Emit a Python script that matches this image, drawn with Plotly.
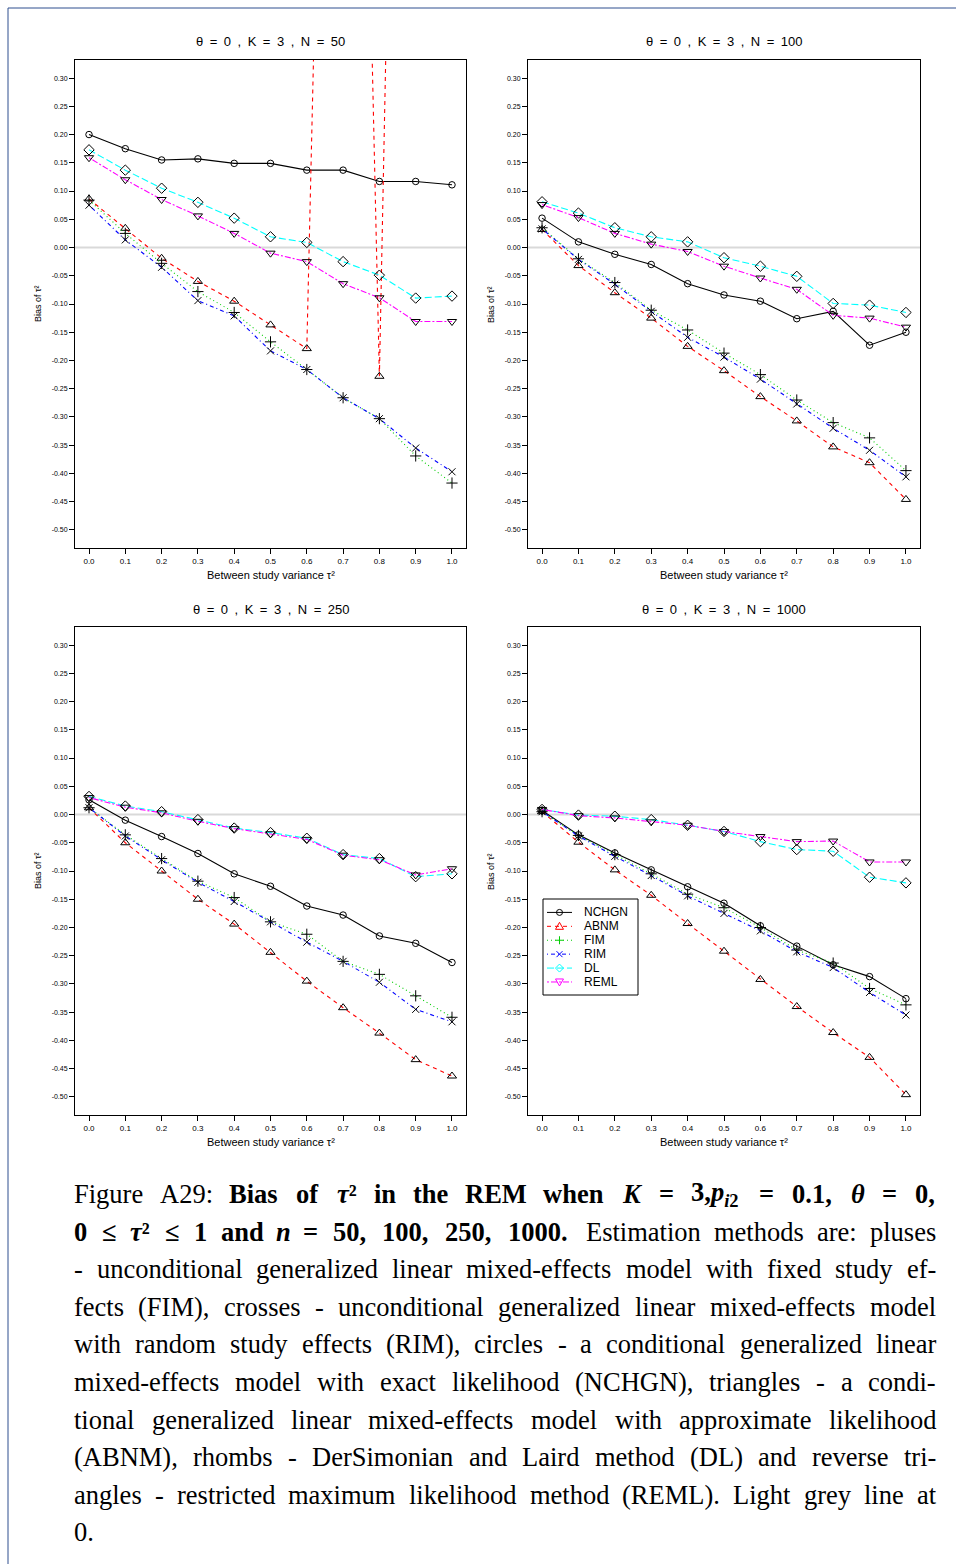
import re
import plotly.graph_objects as go

# ---------------- data ----------------
tau2 = [0.0, 0.1, 0.2, 0.3, 0.4, 0.5, 0.6, 0.7, 0.8, 0.9, 1.0]
x_tick_labels = ["0.0", "0.1", "0.2", "0.3", "0.4", "0.5", "0.6", "0.7", "0.8", "0.9", "1.0"]
y_tick_vals = [-0.50, -0.45, -0.40, -0.35, -0.30, -0.25, -0.20, -0.15, -0.10, -0.05,
               0.00, 0.05, 0.10, 0.15, 0.20, 0.25, 0.30]
y_tick_labels = ["-0.50", "-0.45", "-0.40", "-0.35", "-0.30", "-0.25", "-0.20", "-0.15", "-0.10",
                 "-0.05", "0.00", "0.05", "0.10", "0.15", "0.20", "0.25", "0.30"]
panel_titles = ["θ = 0 , K = 3 , N = 50", "θ = 0 , K = 3 , N = 100",
                "θ = 0 , K = 3 , N = 250", "θ = 0 , K = 3 , N = 1000"]
methods = ["NCHGN", "ABNM", "FIM", "RIM", "DL", "REML"]

# N = 50
n50_nchgn = [0.200, 0.175, 0.155, 0.157, 0.149, 0.149, 0.137, 0.137, 0.117, 0.117, 0.111]
n50_abnm = [0.086, 0.034, -0.019, -0.060, -0.095, -0.137, -0.179, 2.60, -0.228, 3.00, None]
n50_fim = [0.084, 0.025, -0.028, -0.078, -0.115, -0.167, -0.216, -0.266, -0.303, -0.369, -0.417]
n50_rim = [0.075, 0.0135, -0.035, -0.094, -0.121, -0.183, -0.216, -0.266, -0.303, -0.355, -0.397]
n50_dl = [0.173, 0.137, 0.105, 0.080, 0.052, 0.019, 0.009, -0.025, -0.049, -0.0895, -0.086]
n50_reml = [0.159, 0.120, 0.085, 0.056, 0.025, -0.010, -0.025, -0.064, -0.089, -0.131, -0.131]

# N = 100
n100_nchgn = [0.052, 0.010, -0.012, -0.030, -0.064, -0.084, -0.095, -0.126, -0.113, -0.173, -0.150]
n100_abnm = [0.032, -0.032, -0.080, -0.125, -0.175, -0.218, -0.264, -0.307, -0.353, -0.381, -0.446]
n100_fim = [0.035, -0.020, -0.062, -0.111, -0.146, -0.187, -0.225, -0.270, -0.310, -0.337, -0.395]
n100_rim = [0.033, -0.021, -0.065, -0.113, -0.159, -0.194, -0.233, -0.277, -0.320, -0.359, -0.406]
n100_dl = [0.081, 0.061, 0.035, 0.019, 0.010, -0.018, -0.033, -0.051, -0.099, -0.102, -0.115]
n100_reml = [0.076, 0.053, 0.025, 0.006, -0.007, -0.033, -0.054, -0.074, -0.120, -0.125, -0.141]

# N = 250
n250_nchgn = [0.026, -0.010, -0.039, -0.069, -0.105, -0.127, -0.162, -0.178, -0.215, -0.228, -0.262]
n250_abnm = [0.012, -0.050, -0.100, -0.150, -0.194, -0.244, -0.295, -0.342, -0.387, -0.434, -0.463]
n250_fim = [0.012, -0.036, -0.078, -0.118, -0.147, -0.190, -0.212, -0.260, -0.283, -0.321, -0.359]
n250_rim = [0.012, -0.038, -0.080, -0.120, -0.154, -0.190, -0.226, -0.260, -0.297, -0.345, -0.367]
n250_dl = [0.032, 0.015, 0.005, -0.009, -0.024, -0.032, -0.042, -0.071, -0.078, -0.110, -0.105]
n250_reml = [0.030, 0.013, 0.003, -0.012, -0.025, -0.034, -0.044, -0.072, -0.080, -0.107, -0.096]

# N = 1000
n1000_nchgn = [0.007, -0.036, -0.068, -0.098, -0.128, -0.157, -0.197, -0.233, -0.266, -0.287, -0.326]
n1000_abnm = [0.005, -0.049, -0.098, -0.143, -0.193, -0.242, -0.292, -0.340, -0.386, -0.430, -0.496]
n1000_fim = [0.005, -0.037, -0.071, -0.105, -0.141, -0.165, -0.200, -0.240, -0.263, -0.308, -0.337]
n1000_rim = [0.005, -0.038, -0.074, -0.108, -0.144, -0.175, -0.206, -0.243, -0.271, -0.315, -0.355]
n1000_dl = [0.009, -0.001, -0.003, -0.009, -0.019, -0.030, -0.048, -0.062, -0.065, -0.111, -0.121]
n1000_reml = [0.009, -0.002, -0.006, -0.013, -0.019, -0.030, -0.039, -0.048, -0.047, -0.084, -0.084]

panels = [
    [n50_nchgn, n50_abnm, n50_fim, n50_rim, n50_dl, n50_reml],
    [n100_nchgn, n100_abnm, n100_fim, n100_rim, n100_dl, n100_reml],
    [n250_nchgn, n250_abnm, n250_fim, n250_rim, n250_dl, n250_reml],
    [n1000_nchgn, n1000_abnm, n1000_fim, n1000_rim, n1000_dl, n1000_reml],
]

# ---------------- styles ----------------
W, H = 956, 1564
colors = ["#000000", "#ff0000", "#00cd00", "#0000ff", "#00ffff", "#ff00ff"]
# R line types: solid, dashed, dotted, dotdash, longdash, twodash
dashes = ["solid", "4px,4px", "1px,3px", "1px,3px,4px,3px", "7px,3px", "2px,2px,6px,2px"]
symbols = ["circle-open", "triangle-up-open", "cross-thin-open", "x-thin-open",
           "diamond-open", "triangle-down-open"]
msizes = [6.5, 8, 8, 7, 8, 8]

col_px = [(75, 466), (528, 920)]
row_px = [(60, 548), (627, 1115)]
SANS = "Liberation Sans"
ESP = "\u2002"


def px_x(p):
    return p / W


def px_y(p):
    return 1 - p / H


fig = go.Figure()
layout_axes = {}
annotations = []
shapes = []

for k in range(4):
    r, c = divmod(k, 2)
    ax = "" if k == 0 else str(k + 1)
    xa, ya = "x" + ax, "y" + ax
    x0, x1 = col_px[c]
    y0, y1 = row_px[r]
    layout_axes["xaxis" + ax] = dict(
        domain=[px_x(x0), px_x(x1)], anchor=ya, range=[-0.0386, 1.0386],
        tickvals=tau2, ticktext=x_tick_labels, ticks="outside", ticklen=5,
        tickcolor="black", tickwidth=1, tickfont=dict(size=8, family=SANS, color="black"),
        showline=True, mirror=True, linecolor="black", linewidth=1,
        showgrid=False, zeroline=False, fixedrange=True)
    layout_axes["yaxis" + ax] = dict(
        domain=[px_y(y1), px_y(y0)], anchor=xa, range=[-0.532, 0.332],
        tickvals=y_tick_vals, ticktext=y_tick_labels, ticks="outside", ticklen=5,
        tickcolor="black", tickwidth=1, tickfont=dict(size=7, family=SANS, color="black"),
        showline=True, mirror=True, linecolor="black", linewidth=1,
        showgrid=False, zeroline=False, fixedrange=True)
    # zero reference line
    shapes.append(dict(type="line", xref=xa + " domain", yref=ya, x0=0, x1=1, y0=0, y1=0,
                       line=dict(color="#d9d9d9", width=2), layer="below"))
    for m in range(6):
        fig.add_trace(go.Scatter(
            x=tau2, y=panels[k][m], mode="lines+markers", xaxis=xa, yaxis=ya,
            line=dict(color=colors[m], dash=dashes[m], width=1.1),
            marker=dict(symbol=symbols[m], size=msizes[m], color="black",
                        line=dict(color="black", width=1)),
            showlegend=False, name=methods[m], cliponaxis=True, hoverinfo="skip"))
    cx = (x0 + x1) / 2
    annotations.append(dict(text=panel_titles[k].replace(" ", ESP), x=px_x(cx), y=px_y(y0 - 18),
                            xref="paper", yref="paper", showarrow=False, xanchor="center",
                            yanchor="middle", font=dict(size=13, family=SANS, color="black")))
    annotations.append(dict(text="Between study variance τ²", x=px_x(cx), y=px_y(y1 + 27),
                            xref="paper", yref="paper", showarrow=False, xanchor="center",
                            yanchor="middle", font=dict(size=11, family=SANS, color="black")))
    annotations.append(dict(text="Bias of τ²", x=px_x(x0 - 37), y=px_y((y0 + y1) / 2),
                            xref="paper", yref="paper", showarrow=False, xanchor="center",
                            yanchor="middle", textangle=-90,
                            font=dict(size=9, family=SANS, color="black")))

# ---------------- legend box (bottom-right panel, like R's legend()) ----------------
leg_x0, leg_x1, leg_y0, leg_y1 = 543, 638, 899, 995
shapes.append(dict(type="rect", xref="paper", yref="paper", x0=px_x(leg_x0), x1=px_x(leg_x1),
                   y0=px_y(leg_y1), y1=px_y(leg_y0), line=dict(color="black", width=1),
                   fillcolor="white"))


def glyph_shapes(sym, cx, cy, color, s=4.0):
    def P(pts, close=True):
        d = "M " + " L ".join(f"{px_x(a):.6f},{px_y(b):.6f}" for a, b in pts)
        return d + (" Z" if close else "")
    st = dict(type="path", xref="paper", yref="paper", line=dict(color=color, width=1))
    if sym.startswith("circle"):
        return [dict(type="circle", xref="paper", yref="paper", x0=px_x(cx - 3), x1=px_x(cx + 3),
                     y0=px_y(cy + 3), y1=px_y(cy - 3), line=dict(color=color, width=1))]
    if sym.startswith("triangle-up"):
        return [dict(st, path=P([(cx, cy - s), (cx + s, cy + s * 0.75), (cx - s, cy + s * 0.75)]))]
    if sym.startswith("triangle-down"):
        return [dict(st, path=P([(cx, cy + s), (cx + s, cy - s * 0.75), (cx - s, cy - s * 0.75)]))]
    if sym.startswith("diamond"):
        return [dict(st, path=P([(cx, cy - s), (cx + s, cy), (cx, cy + s), (cx - s, cy)]))]
    if sym.startswith("cross"):
        return [dict(st, path=P([(cx - s, cy), (cx + s, cy)], False)),
                dict(st, path=P([(cx, cy - s), (cx, cy + s)], False))]
    if sym.startswith("x"):
        return [dict(st, path=P([(cx - s * 0.75, cy - s * 0.75), (cx + s * 0.75, cy + s * 0.75)], False)),
                dict(st, path=P([(cx - s * 0.75, cy + s * 0.75), (cx + s * 0.75, cy - s * 0.75)], False))]
    return []


row_h = (leg_y1 - leg_y0) / 6.9
for m in range(6):
    yc = leg_y0 + row_h * (m + 1) - 0.5
    shapes.append(dict(type="line", xref="paper", yref="paper", x0=px_x(547), x1=px_x(572),
                       y0=px_y(yc), y1=px_y(yc), line=dict(color=colors[m], dash=dashes[m], width=1)))
    shapes.extend(glyph_shapes(symbols[m], 559.5, yc, colors[m]))
    annotations.append(dict(text=methods[m], x=px_x(583), y=px_y(yc), xref="paper", yref="paper",
                            showarrow=False, xanchor="left", yanchor="middle", borderpad=0,
                            font=dict(size=12, family=SANS, color="black")))

# page border
shapes.append(dict(type="line", xref="paper", yref="paper", x0=px_x(8), x1=1, y0=px_y(8), y1=px_y(8),
                   line=dict(color="#2f4f8f", width=1)))
shapes.append(dict(type="line", xref="paper", yref="paper", x0=px_x(8), x1=px_x(8), y0=px_y(8), y1=0,
                   line=dict(color="#2f4f8f", width=1)))

# ---------------- caption (justified) ----------------
TIMES = {'a': 444, 'b': 500, 'c': 444, 'd': 500, 'e': 444, 'f': 333, 'g': 500, 'h': 500, 'i': 278,
         'j': 278, 'k': 500, 'l': 278, 'm': 778, 'n': 500, 'o': 500, 'p': 500, 'q': 500, 'r': 333,
         's': 389, 't': 278, 'u': 500, 'v': 500, 'w': 722, 'x': 500, 'y': 500, 'z': 444,
         'A': 722, 'B': 667, 'C': 667, 'D': 722, 'E': 611, 'F': 556, 'G': 722, 'H': 722, 'I': 333,
         'J': 389, 'K': 722, 'L': 611, 'M': 889, 'N': 722, 'O': 722, 'P': 556, 'Q': 722, 'R': 667,
         'S': 556, 'T': 611, 'U': 722, 'V': 722, 'W': 944, 'X': 722, 'Y': 722, 'Z': 611,
         ' ': 250, '-': 333, '(': 333, ')': 333, ',': 250, '.': 250, ':': 278, '=': 564,
         '≤': 549, 'τ': 440, 'θ': 500, '²': 300}
for dgt in "0123456789":
    TIMES[dgt] = 500

CAP_SIZE = 26.5


def text_width(html, size):
    bold = False
    small = False
    w = 0.0
    for tok in re.split(r'(<[^>]+>)', html):
        if tok.startswith('<'):
            closing = tok.startswith('</')
            tag = tok.strip('<>/').lower()
            if tag == 'b':
                bold = not closing
            elif tag in ('sup', 'sub'):
                small = not closing
            continue
        for ch in tok:
            cw = TIMES.get(ch, 500) / 1000.0
            if bold:
                cw *= 1.08
            if small:
                cw *= 0.7
            w += cw
    return w * size


def B(s):
    return "<b>" + s + "</b>"


caption_lines = [
    ["Figure", "A29:", B("Bias"), B("of"), B("<i>τ</i>²"), B("in"), B("the"), B("REM"),
     B("when"), B("<i>K</i>"), B("="), B("3,<i>p</i><sub><i>i</i>2</sub>"), B("="), B("0.1,"),
     B("<i>θ</i>"), B("="), B("0,")],
    [B("0"), B("≤"), B("<i>τ</i>²"), B("≤"), B("1"), B("and"), B("<i>n</i>"), B("="),
     B("50,"), B("100,"), B("250,"), B("1000."), "Estimation", "methods", "are:", "pluses"],
    "- unconditional generalized linear mixed-effects model with fixed study ef-".split(" "),
    "fects (FIM), crosses - unconditional generalized linear mixed-effects model".split(" "),
    "with random study effects (RIM), circles - a conditional generalized linear".split(" "),
    "mixed-effects model with exact likelihood (NCHGN), triangles - a condi-".split(" "),
    "tional generalized linear mixed-effects model with approximate likelihood".split(" "),
    "(ABNM), rhombs - DerSimonian and Laird method (DL) and reverse tri-".split(" "),
    "angles - restricted maximum likelihood method (REML). Light grey line at".split(" "),
    ["0."],
]
cap_left, cap_right = 73, 935
cap_y0, cap_dy = 1194, 37.6

for li, words in enumerate(caption_lines):
    yc = cap_y0 + li * cap_dy
    widths = [text_width(w, CAP_SIZE) for w in words]
    natural = sum(widths)
    if len(words) > 1 and li < len(caption_lines) - 1:
        gap = (cap_right - cap_left - natural) / (len(words) - 1)
        gap = max(gap, 0.2 * CAP_SIZE)
    else:
        gap = 0.25 * CAP_SIZE
    xpos = cap_left
    for w, wd in zip(words, widths):
        annotations.append(dict(text=w, x=px_x(xpos), y=px_y(yc), xref="paper", yref="paper",
                                showarrow=False, xanchor="left", yanchor="middle", borderpad=0,
                                font=dict(size=CAP_SIZE, family="Liberation Serif", color="black")))
        xpos += wd + gap

fig.update_layout(
    width=W, height=H, autosize=False,
    margin=dict(l=0, r=0, t=0, b=0),
    paper_bgcolor="white", plot_bgcolor="white",
    annotations=annotations, shapes=shapes,
    showlegend=False,
    **layout_axes,
)

fig.write_html("out.html", config={"displayModeBar": False, "staticPlot": True},
               post_script="document.body.style.margin='0px';")
